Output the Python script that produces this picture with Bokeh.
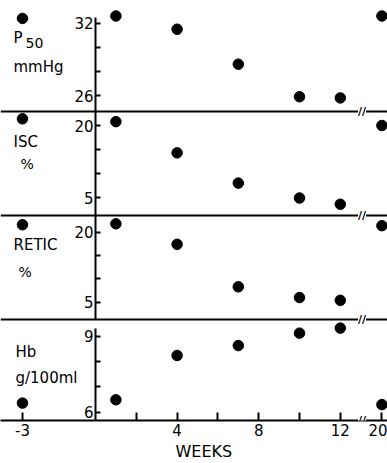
from bokeh.plotting import figure
from bokeh.models import LinearAxis, FixedTicker, Label, Range1d, Span, Title
from bokeh.embed import file_html
from bokeh.resources import INLINE

# ---------------- data ----------------
weeks = [-3, 1, 4, 7, 10, 12, 20]
p50_mmHg = [32.4, 32.6, 31.5, 28.6, 25.9, 25.8, 32.6]
isc_pct = [21.4, 20.8, 14.3, 8.0, 4.9, 3.6, 20.0]
retic_pct = [21.6, 21.8, 17.4, 8.3, 6.0, 5.4, 21.4]
hb_g_100ml = [6.36, 6.49, 8.24, 8.63, 9.12, 9.32, 6.30]

x_tick_weeks = [-3, 2, 4, 6, 8, 10, 12, 20]
x_tick_labels = ["-3", "", "4", "", "8", "", "12", "20"]
x_axis_title = "WEEKS"

p50_ticks = [26, 28, 30, 32]
p50_tick_labels = ["26", "", "", "32"]
isc_ticks = [5, 10, 15, 20]
isc_tick_labels = ["5", "", "", "20"]
retic_ticks = [5, 10, 15, 20]
retic_tick_labels = ["5", "", "", "20"]
hb_ticks = [6, 7, 8, 9]
hb_tick_labels = ["6", "", "", "9"]

# ---------------- broken time axis ----------------
BREAK_AFTER = 13      # weeks beyond this are drawn after the axis break
PRE_SHIFT = -0.58     # pre-treatment week drawn left of the y axis
POST_SHIFT = -5.96    # follow-up week drawn after the break


def axis_pos(w):
    if w < 0:
        return w + PRE_SHIFT
    if w > BREAK_AFTER:
        return w + POST_SHIFT
    return w


# ---------------- layout constants (page pixels) ----------------
FRAME_W = 387
FRAME_H = 420
X_ZERO_PAGE = 95.0
PX_PER_WEEK = 20.4
FONT = "DejaVu Sans"


def x_at(page_x):
    return (page_x - X_ZERO_PAGE) / PX_PER_WEEK


BREAK_X = x_at(361.5)

panels = [
    dict(name="p50", top=0, line=111, ref=((32, 22.7), (26, 95.0)), axis_top=16.5,
         values=p50_mmHg, ticks=p50_ticks, labels=p50_tick_labels,
         texts=[("P", 13, 28.5, 15), ("50", 25, 37.5, 14), ("mmHg", 13, 57, 15)]),
    dict(name="isc", top=111, line=215, ref=((20, 125.0), (5, 197.0)), axis_top=111,
         values=isc_pct, ticks=isc_ticks, labels=isc_tick_labels,
         texts=[("ISC", 13, 132, 15), ("%", 20, 155, 14)]),
    dict(name="retic", top=215, line=319, ref=((20, 231.7), (5, 301.7)), axis_top=215,
         values=retic_pct, ticks=retic_ticks, labels=retic_tick_labels,
         texts=[("RETIC", 13, 235, 15), ("%", 18, 263, 14)]),
    dict(name="hb", top=319, line=420, ref=((9, 335.7), (6, 411.7)), axis_top=328,
         values=hb_g_100ml, ticks=hb_ticks, labels=hb_tick_labels,
         texts=[("Hb", 15, 342, 15), ("g/100ml", 15, 368.5, 15)]),
]


def make_y_at(ref):
    (va, pa), (vb, pb) = ref
    k = (va - vb) / (pb - pa)
    return lambda page_y: va + (pa - page_y) * k


# default y range = page pixel rows (top 0, bottom FRAME_H), for layout only
p = figure(frame_width=FRAME_W, frame_height=FRAME_H,
           x_range=Range1d(x_at(0), x_at(FRAME_W)),
           y_range=Range1d(FRAME_H, 0),
           output_backend="svg", toolbar_location=None,
           x_axis_location=None, y_axis_location=None, min_border=0)
p.outline_line_color = None
p.background_fill_color = "white"
p.border_fill_color = "white"
p.grid.visible = False

for sp in panels:
    y_at = make_y_at(sp["ref"])
    name = sp["name"]
    p.extra_y_ranges[name] = Range1d(y_at(FRAME_H), y_at(0))

    yax = LinearAxis(y_range_name=name, fixed_location=0,
                     ticker=FixedTicker(ticks=sp["ticks"]),
                     major_label_overrides=dict(zip(sp["ticks"], sp["labels"])),
                     bounds=(y_at(sp["line"]), y_at(sp["axis_top"])),
                     axis_line_width=2, axis_line_color="black",
                     major_tick_in=5, major_tick_out=0, major_tick_line_width=2,
                     minor_tick_in=0, minor_tick_out=0,
                     major_label_standoff=2,
                     major_label_text_font=FONT, major_label_text_font_size="15px",
                     major_label_text_color="black")
    p.add_layout(yax, "left")

    if sp["line"] < FRAME_H:
        p.add_layout(Span(location=sp["line"], dimension="width",
                          line_color="black", line_width=2))

    for txt, px, py, fs in sp["texts"]:
        p.add_layout(Label(x=x_at(px), y=py, text=txt, text_align="left",
                           text_baseline="top", text_font=FONT,
                           text_font_size=f"{fs}px", text_color="black"))

    p.scatter(x=[axis_pos(w) for w in weeks], y=sp["values"], y_range_name=name,
              size=10.5, color="black", marker="circle")

# bottom time axis
tick_pos = [axis_pos(w) for w in x_tick_weeks]
xax = LinearAxis(ticker=FixedTicker(ticks=tick_pos),
                 major_label_overrides=dict(zip(tick_pos, x_tick_labels)),
                 axis_line_width=2, axis_line_color="black",
                 major_tick_in=8, major_tick_out=0, major_tick_line_width=2,
                 minor_tick_in=0, minor_tick_out=0,
                 major_label_standoff=3,
                 major_label_text_font=FONT, major_label_text_font_size="15px",
                 major_label_text_color="black")
p.add_layout(xax, "below")
p.add_layout(Title(text=x_axis_title, align="left", offset=175,
                   text_font=FONT, text_font_size="16px", text_font_style="normal",
                   text_color="black", standoff=2), "below")

# axis break marks on every horizontal rule
for sp in panels:
    p.add_layout(Label(x=BREAK_X, y=sp["line"], text="//", text_align="center",
                       text_baseline="middle", text_font=FONT, text_font_size="11px",
                       text_font_style="bold", text_color="black",
                       background_fill_color="white"))

open("out.html", "w").write(file_html(p, INLINE))
